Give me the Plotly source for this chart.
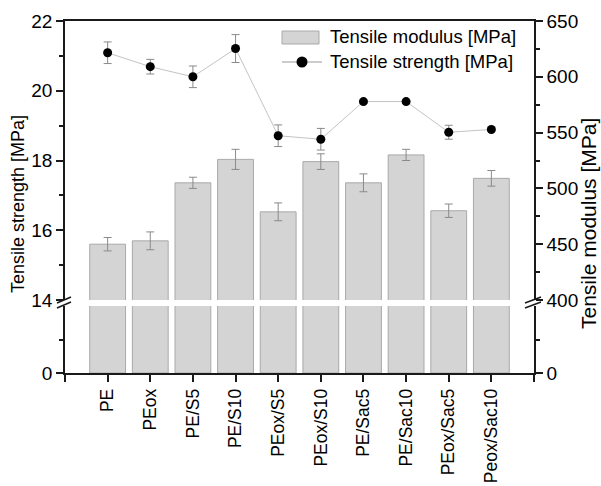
import plotly.graph_objects as go

# Sample names and measured properties
samples = ["PE", "PEox", "PE/S5", "PE/S10", "PEox/S5", "PEox/S10",
           "PE/Sac5", "PE/Sac10", "PEox/Sac5", "Peox/Sac10"]
modulus = [450, 453, 505, 526, 479, 524, 505, 530, 480, 509]          # MPa
modulus_err = [6, 8, 5, 9, 8, 7, 8, 5, 6, 7]
strength = [21.09, 20.69, 20.40, 21.21, 18.71, 18.61, 19.69, 19.69, 18.81, 18.89]  # MPa
strength_err = [0.31, 0.21, 0.31, 0.40, 0.31, 0.31, 0.05, 0.05, 0.20, 0.05]

W, H = 601, 486
ML, MR, MT, MB = 65, 67, 21, 113
PW, PH = W - ML - MR, H - MT - MB

FONT = "Liberation Sans, Arial, sans-serif"
AXC = "#1a1a1a"
BAR_FILL = "#d4d4d4"
BAR_LINE = "#a9a9a9"
ERR_C = "#8a8a8a"
LINE_C = "#c4c4c4"

xpos = list(range(len(samples)))


def px(x):
    return (x - ML) / PW


def py(y):
    return (H - MB - y) / PH


fig = go.Figure()

# Each series is drawn on both segments of its broken axis;
# whatever falls outside a segment's range is clipped away.
bar_style = dict(color=BAR_FILL, line=dict(color=BAR_LINE, width=1))
fig.add_trace(go.Bar(x=xpos, y=modulus, width=0.84, xaxis="x", yaxis="y3",
                     marker=bar_style, showlegend=False, hoverinfo="skip"))
fig.add_trace(go.Bar(x=xpos, y=modulus, width=0.84, xaxis="x2", yaxis="y4",
                     marker=bar_style,
                     error_y=dict(type="data", array=modulus_err, color=ERR_C,
                                  thickness=1, width=4),
                     name="Tensile modulus [MPa]", showlegend=False))
for xa, ya in [("x", "y"), ("x2", "y2")]:
    fig.add_trace(go.Scatter(x=xpos, y=strength, xaxis=xa, yaxis=ya,
                             mode="lines+markers",
                             line=dict(color=LINE_C, width=1),
                             marker=dict(color="black", size=9),
                             error_y=dict(type="data", array=strength_err,
                                          color=ERR_C, thickness=1, width=4),
                             name="Tensile strength [MPa]", showlegend=False))

low_top = 67 / PH
up_bot = 73 / PH
tickfont = dict(family=FONT, size=19, color="black")
common_y = dict(showline=True, linecolor=AXC, linewidth=1.5, ticks="outside",
                ticklen=7, tickwidth=1.5, tickcolor=AXC, showgrid=False,
                zeroline=False, tickfont=tickfont, automargin=False)


def minor(**kw):
    return dict(ticks="outside", ticklen=4, tickcolor=AXC, tickwidth=1.5, **kw)


fig.update_layout(
    width=W, height=H,
    margin=dict(l=ML, r=MR, t=MT, b=MB, pad=0, autoexpand=False),
    paper_bgcolor="white", plot_bgcolor="white",
    barmode="overlay",
    xaxis=dict(domain=[0, 1], anchor="y", range=[-1, 10],
               tickvals=[-1] + xpos + [10], ticktext=[""] + samples + [""],
               tickangle=-90, showline=True, linecolor=AXC, linewidth=1.5,
               ticks="outside", ticklen=7, tickwidth=1.5, tickcolor=AXC,
               showgrid=False, zeroline=False, automargin=False,
               tickfont=dict(family=FONT, size=17.5, color="black")),
    xaxis2=dict(domain=[0, 1], anchor="y2", range=[-1, 10], side="top",
                showline=True, linecolor=AXC, linewidth=1.8, automargin=False,
                showticklabels=False, ticks="", showgrid=False, zeroline=False),
    # lower segments: strength 0..14, modulus 0..400
    yaxis=dict(domain=[0, low_top], anchor="x", range=[0, 14],
               tickvals=[0], minor=minor(tickvals=[7]), **common_y),
    yaxis3=dict(domain=[0, low_top], anchor="x", overlaying="y", side="right",
                range=[0, 400], tickvals=[0], minor=minor(tickvals=[200]),
                **common_y),
    # upper segments: strength 14..22, modulus 400..650
    yaxis2=dict(domain=[up_bot, 1], anchor="x2", range=[14, 22],
                tick0=14, dtick=2, minor=minor(dtick=1), **common_y),
    yaxis4=dict(domain=[up_bot, 1], anchor="x2", overlaying="y2", side="right",
                range=[400, 650], tick0=400, dtick=50, minor=minor(dtick=25),
                **common_y),
    showlegend=False,
)

# axis titles
fig.add_annotation(text="Tensile strength [MPa]", xref="paper", yref="paper",
                   x=px(18), y=py(204), textangle=-90, showarrow=False,
                   xanchor="center", yanchor="middle",
                   font=dict(family=FONT, size=18, color="black"))
fig.add_annotation(text="Tensile modulus [MPa]", xref="paper", yref="paper",
                   x=px(588), y=py(224), textangle=-90, showarrow=False,
                   xanchor="center", yanchor="middle",
                   font=dict(family=FONT, size=21, color="black"))

# axis break marks
shapes = []
for x0, x1 in [(57, 71), (525, 541)]:
    for dy in (0, 5):
        shapes.append(dict(type="line", xref="paper", yref="paper",
                           x0=px(x0), y0=py(303 + dy), x1=px(x1), y1=py(297 + dy),
                           line=dict(color=AXC, width=1.5)))

# legend
shapes.append(dict(type="rect", xref="paper", yref="paper",
                   x0=px(282), x1=px(319), y0=py(44), y1=py(31),
                   fillcolor=BAR_FILL, line=dict(color=BAR_LINE, width=1)))
shapes.append(dict(type="line", xref="paper", yref="paper",
                   x0=px(282), x1=px(322), y0=py(62), y1=py(62),
                   line=dict(color="#9a9a9a", width=1)))
shapes.append(dict(type="circle", xref="paper", yref="paper",
                   xsizemode="pixel", ysizemode="pixel",
                   xanchor=px(302), yanchor=py(62),
                   x0=-5.5, x1=5.5, y0=-5.5, y1=5.5,
                   fillcolor="black", line=dict(color="black", width=0)))
fig.update_layout(shapes=shapes)

for label, yc in [("Tensile modulus [MPa]", 37), ("Tensile strength [MPa]", 62)]:
    fig.add_annotation(text=label, xref="paper", yref="paper",
                       x=px(328), y=py(yc), xanchor="left", yanchor="middle",
                       showarrow=False,
                       font=dict(family=FONT, size=18.5, color="black"))

fig.write_html("out.html")
